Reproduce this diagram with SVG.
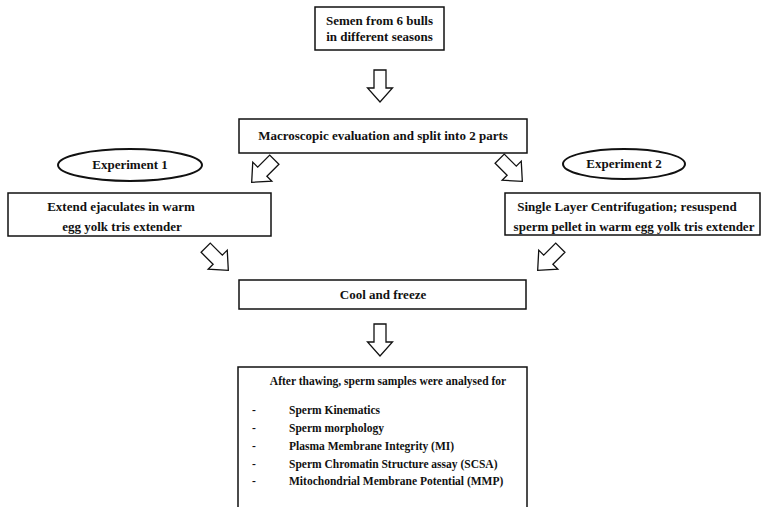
<svg xmlns="http://www.w3.org/2000/svg" width="761" height="507" viewBox="0 0 761 507">
<style>
.box{fill:#fff;stroke:#111;stroke-width:1.5}
.ell{fill:#fff;stroke:#111;stroke-width:2}
.t{font-family:"Liberation Serif","Times New Roman",Times,serif;font-weight:bold;font-size:13px;fill:#111;text-anchor:middle}
.s{font-size:11.5px}
.l{font-family:"Liberation Serif","Times New Roman",Times,serif;font-weight:bold;font-size:11.5px;fill:#111}
.arr{fill:#fff;stroke:#111;stroke-width:1.3;stroke-linejoin:miter}
</style>
<defs>
<path id="arr" class="arr" d="M-16,-6 L2,-6 L2,-12.5 L16,0 L2,12.5 L2,6 L-16,6 Z"/>
<path id="arrd" class="arr" d="M-16,-6.5 L1,-6.5 L1,-13.5 L16,0 L1,13.5 L1,6.5 L-16,6.5 Z"/>
</defs>
<rect width="761" height="507" fill="#fff"/>
<g id="connectors">
<use href="#arr" transform="translate(380,86) rotate(90)"/>
<use href="#arrd" transform="translate(263,171) rotate(135)"/>
<use href="#arrd" transform="translate(511,170) rotate(45)"/>
<use href="#arrd" transform="translate(217,259) rotate(45)"/>
<use href="#arrd" transform="translate(549,259) rotate(135)"/>
<use href="#arr" transform="translate(380,340) rotate(90)"/>
</g>
<g id="semen">
<rect class="box" x="315" y="7" width="129" height="43"/>
<text class="t" x="379.5" y="25">Semen from 6 bulls</text>
<text class="t" x="379.5" y="41">in different seasons</text>
</g>
<g id="macro">
<rect class="box" x="239" y="119" width="288" height="34"/>
<text class="t" x="383" y="140">Macroscopic evaluation and split into 2 parts</text>
</g>
<g id="exp1">
<ellipse class="ell" cx="130" cy="165" rx="72" ry="16"/>
<text class="t" x="130" y="169">Experiment 1</text>
</g>
<g id="exp2">
<ellipse class="ell" cx="624" cy="164" rx="61" ry="15"/>
<text class="t" x="624" y="168">Experiment 2</text>
</g>
<g id="extend">
<rect class="box" x="8" y="193" width="263" height="43"/>
<text class="t" x="121" y="211">Extend ejaculates in warm</text>
<text class="t" x="122" y="231">egg yolk tris extender</text>
</g>
<g id="slc">
<rect class="box" x="505" y="193" width="255" height="42"/>
<text class="t" x="627" y="211">Single Layer Centrifugation; resuspend</text>
<text class="t" x="634" y="231">sperm pellet in warm egg yolk tris extender</text>
</g>
<g id="cool">
<rect class="box" x="239" y="280" width="287" height="29"/>
<text class="t" x="383" y="299">Cool and freeze</text>
</g>
<g id="analysis">
<rect class="box" x="238" y="367" width="289" height="160"/>
<text class="t s" x="388" y="385">After thawing, sperm samples were analysed for</text>
<text class="l" x="252" y="414">-</text><text class="l" x="289" y="414">Sperm Kinematics</text>
<text class="l" x="252" y="432">-</text><text class="l" x="289" y="432">Sperm morphology</text>
<text class="l" x="252" y="450">-</text><text class="l" x="289" y="450">Plasma Membrane Integrity (MI)</text>
<text class="l" x="252" y="468">-</text><text class="l" x="289" y="468">Sperm Chromatin Structure assay (SCSA)</text>
<text class="l" x="252" y="485">-</text><text class="l" x="289" y="485">Mitochondrial Membrane Potential (MMP)</text>
</g>
</svg>
